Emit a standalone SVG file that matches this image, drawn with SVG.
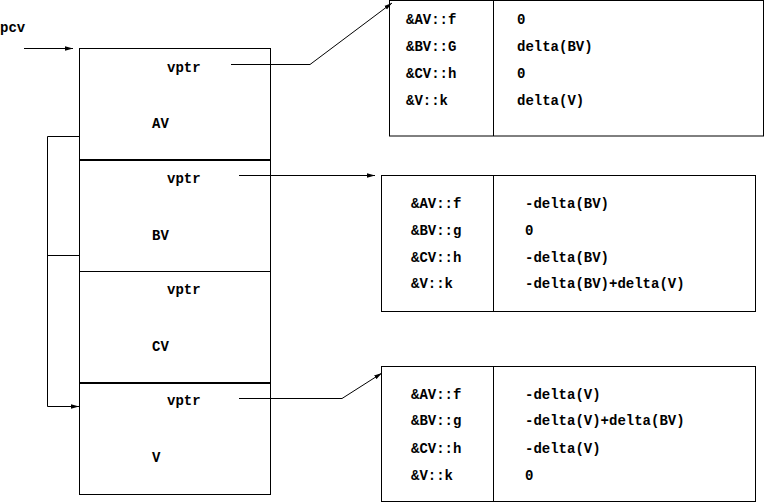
<svg xmlns="http://www.w3.org/2000/svg" width="765" height="503" viewBox="0 0 765 503">
<style>
text{font-family:"Liberation Mono","DejaVu Sans Mono",monospace;font-size:14px;font-weight:bold;fill:#000}
.ln{fill:none;stroke:#000;stroke-width:1}
.thick{stroke:#000;stroke-width:2.2}
</style>
<defs>
<marker id="ah" markerWidth="8" markerHeight="6" refX="8" refY="3" orient="auto" markerUnits="userSpaceOnUse">
<path d="M0,0.8 L8,3 L0,5.2 z" fill="#000"/>
</marker>
</defs>
<rect width="765" height="503" fill="#fff"/>
<g id="pcv"><text x="0" y="32">pcv</text></g>
<g id="object">
<rect class="ln" x="79.5" y="48.5" width="191" height="446"/>
<line class="thick" x1="79" y1="160" x2="271" y2="160"/>
<line class="ln" x1="79" y1="271.5" x2="271" y2="271.5"/>
<line class="thick" x1="79" y1="383" x2="271" y2="383"/>
</g>
<g id="AV"><text x="167" y="72">vptr</text><text x="152" y="128">AV</text></g>
<g id="BV"><text x="167" y="183">vptr</text><text x="152" y="240">BV</text></g>
<g id="CV"><text x="167" y="294">vptr</text><text x="152" y="351">CV</text></g>
<g id="V"><text x="167" y="405">vptr</text><text x="152" y="462">V</text></g>
<g id="vtbl1">
<rect class="ln" x="389.5" y="0.5" width="374" height="135.5"/>
<line class="ln" x1="493.5" y1="0" x2="493.5" y2="136"/>
<text x="406" y="24">&amp;AV::f</text><text x="517" y="24">0</text>
<text x="406" y="51">&amp;BV::G</text><text x="517" y="51">delta(BV)</text>
<text x="406" y="78">&amp;CV::h</text><text x="517" y="78">0</text>
<text x="406" y="105">&amp;V::k</text><text x="517" y="105">delta(V)</text>
</g>
<g id="vtbl2">
<rect class="ln" x="381.5" y="175.5" width="374" height="136"/>
<line class="ln" x1="493.5" y1="175" x2="493.5" y2="311"/>
<text x="411" y="208">&amp;AV::f</text><text x="525" y="208">-delta(BV)</text>
<text x="411" y="235">&amp;BV::g</text><text x="525" y="235">0</text>
<text x="411" y="262">&amp;CV::h</text><text x="525" y="262">-delta(BV)</text>
<text x="411" y="288">&amp;V::k</text><text x="525" y="288">-delta(BV)+delta(V)</text>
</g>
<g id="vtbl3">
<rect class="ln" x="381.5" y="366.5" width="374" height="135"/>
<line class="ln" x1="493.5" y1="366" x2="493.5" y2="502"/>
<text x="411" y="399">&amp;AV::f</text><text x="525" y="399">-delta(V)</text>
<text x="411" y="425">&amp;BV::g</text><text x="525" y="425">-delta(V)+delta(BV)</text>
<text x="411" y="453">&amp;CV::h</text><text x="525" y="453">-delta(V)</text>
<text x="411" y="480">&amp;V::k</text><text x="525" y="480">0</text>
</g>
<g id="connectors">
<line class="ln" x1="24" y1="48.5" x2="73" y2="48.5" marker-end="url(#ah)"/>
<polyline class="ln" points="231,64.5 310,64.5 392,3" marker-end="url(#ah)"/>
<line class="ln" x1="239" y1="175.5" x2="375" y2="175.5" marker-end="url(#ah)"/>
<polyline class="ln" points="239,398.5 342,398.5 382,373" marker-end="url(#ah)"/>
<polyline class="ln" points="79,136.5 47.5,136.5 47.5,406.5 79,406.5" marker-end="url(#ah)"/>
<line class="ln" x1="47.5" y1="255.5" x2="79" y2="255.5"/>
</g>
</svg>
